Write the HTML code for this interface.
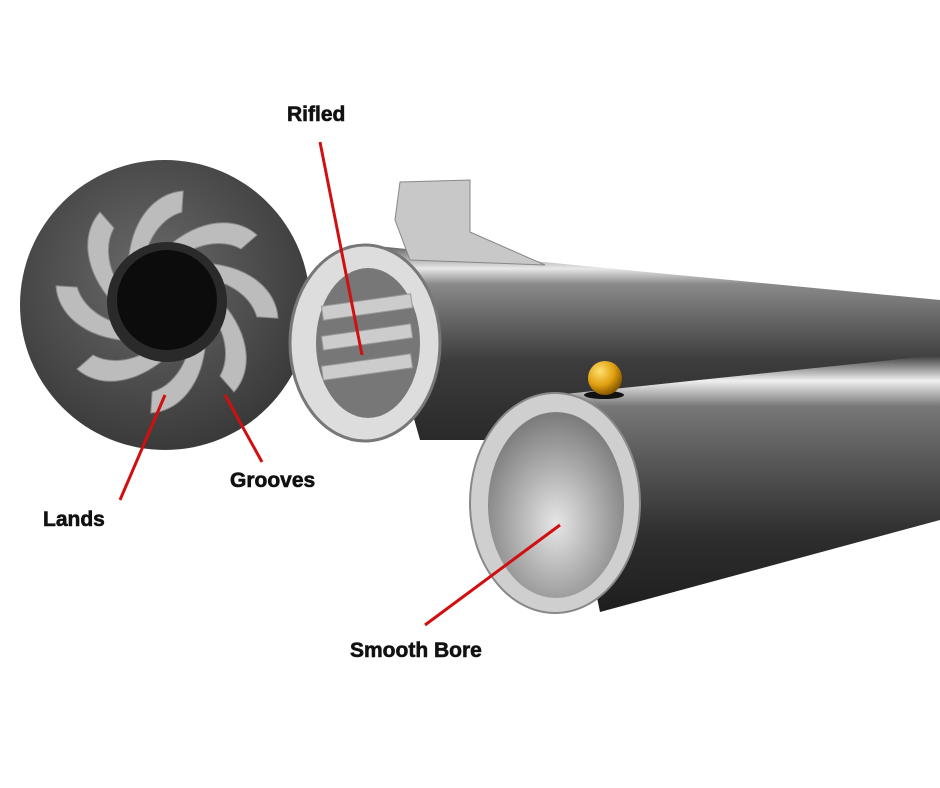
<!DOCTYPE html>
<html><head><meta charset="utf-8"><style>
html,body{margin:0;padding:0;background:#fff;width:940px;height:788px;overflow:hidden}
text{font-family:"Liberation Sans",sans-serif;font-weight:bold;font-size:21px;fill:#111;stroke:#111;stroke-width:0.6}
</style></head><body>
<svg width="940" height="788" viewBox="0 0 940 788" xmlns="http://www.w3.org/2000/svg">
<defs>
<radialGradient id="disc" cx="0.45" cy="0.4" r="0.6"><stop offset="0" stop-color="#6a6a6a"/><stop offset="1" stop-color="#3a3a3a"/></radialGradient>
<linearGradient id="tube1" x1="0" y1="0" x2="0" y2="1"><stop offset="0" stop-color="#5a5a5a"/><stop offset="0.12" stop-color="#e8e8e8"/><stop offset="0.2" stop-color="#8a8a8a"/><stop offset="0.6" stop-color="#3c3c3c"/><stop offset="1" stop-color="#2a2a2a"/></linearGradient>
<linearGradient id="tube2" x1="0" y1="0" x2="0" y2="1"><stop offset="0" stop-color="#3a3a3a"/><stop offset="0.1" stop-color="#f0f0f0"/><stop offset="0.2" stop-color="#777"/><stop offset="0.7" stop-color="#2e2e2e"/><stop offset="1" stop-color="#1e1e1e"/></linearGradient>
<radialGradient id="bore" cx="0.5" cy="0.6" r="0.6"><stop offset="0" stop-color="#e6e6e6"/><stop offset="1" stop-color="#7a7a7a"/></radialGradient>
<radialGradient id="ball" cx="0.35" cy="0.3" r="0.7"><stop offset="0" stop-color="#ffe070"/><stop offset="0.6" stop-color="#e0a010"/><stop offset="1" stop-color="#8a5a00"/></radialGradient>
</defs>
<circle cx="165" cy="305" r="145" fill="url(#disc)"/>
<g fill="#bcbcbc" stroke="#888" stroke-width="1">
<g id="blade"><path d="M167 302 m0 -55 c35 -30 70 -30 90 -12 l-16 14 c-18 -10 -45 -6 -62 10 z"/></g>
<use href="#blade" transform="rotate(45 167 302)"/>
<use href="#blade" transform="rotate(90 167 302)"/>
<use href="#blade" transform="rotate(135 167 302)"/>
<use href="#blade" transform="rotate(180 167 302)"/>
<use href="#blade" transform="rotate(225 167 302)"/>
<use href="#blade" transform="rotate(270 167 302)"/>
<use href="#blade" transform="rotate(315 167 302)"/>
</g>
<circle cx="167" cy="302" r="60" fill="#2a2a2a"/>
<circle cx="167" cy="300" r="50" fill="#0c0c0c"/>
<path d="M365 245 L940 300 L940 440 L420 440 Z" fill="url(#tube1)"/>
<polygon points="400,182 470,180 470,232 545,265 410,260 395,220" fill="#c8c8c8" stroke="#888"/>
<ellipse cx="365" cy="343" rx="75" ry="98" fill="#ddd" stroke="#777" stroke-width="3"/>
<ellipse cx="368" cy="343" rx="52" ry="75" fill="#777"/>
<g fill="#ccc" stroke="#999">
<rect x="322" y="300" width="90" height="14" transform="rotate(-8 367 307)"/>
<rect x="322" y="330" width="90" height="14" transform="rotate(-8 367 337)"/>
<rect x="322" y="360" width="90" height="14" transform="rotate(-8 367 367)"/>
</g>
<path d="M555 395 L940 355 L940 520 L600 612 Z" fill="url(#tube2)"/>
<ellipse cx="555" cy="503" rx="85" ry="110" fill="#cfcfcf" stroke="#888" stroke-width="2"/>
<ellipse cx="556" cy="505" rx="68" ry="93" fill="url(#bore)"/>
<ellipse cx="604" cy="395" rx="20" ry="4" fill="#111"/>
<circle cx="605" cy="378" r="17" fill="url(#ball)"/>
<g stroke="#d01010" stroke-width="3">
<line x1="320" y1="142" x2="362" y2="355"/>
<line x1="120" y1="500" x2="165" y2="395"/>
<line x1="262" y1="462" x2="225" y2="395"/>
<line x1="425" y1="625" x2="560" y2="525"/>
</g>
<text x="287" y="121">Rifled</text>
<text x="43" y="526">Lands</text>
<text x="230" y="487">Grooves</text>
<text x="350" y="657">Smooth Bore</text>
</svg>
</body></html>
